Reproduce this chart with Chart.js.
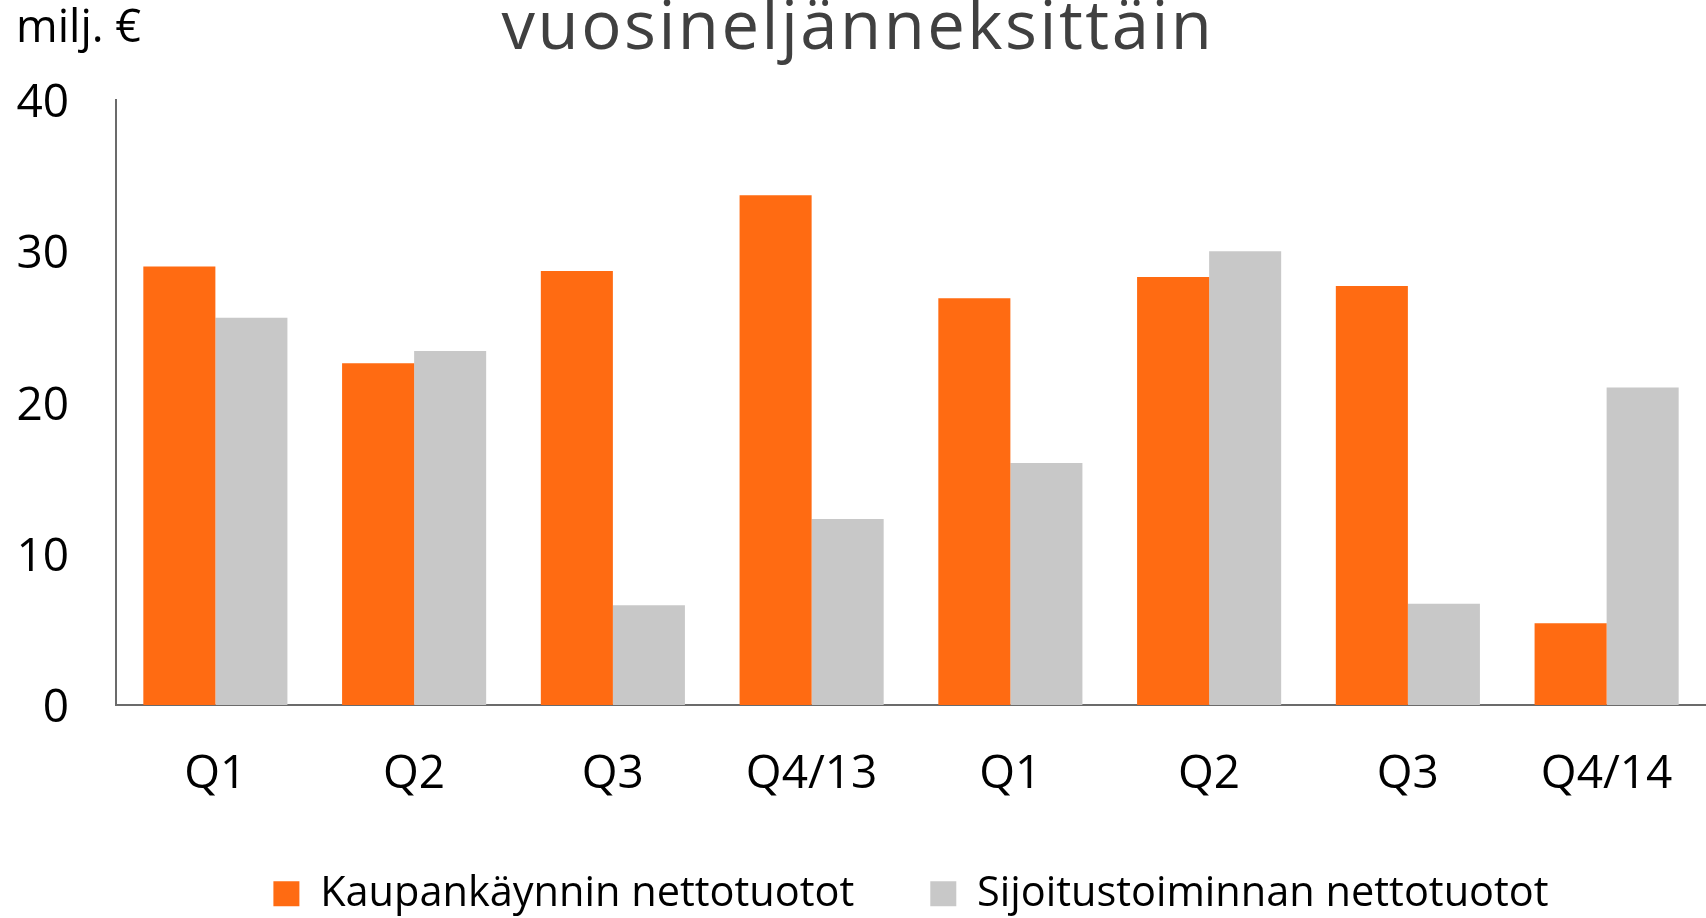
<!DOCTYPE html>
<html>
<head>
<meta charset="utf-8">
<script src="https://cdn.jsdelivr.net/npm/chart.js@4.4.1/dist/chart.umd.min.js"></script>
<style>
  html, body { margin: 0; padding: 0; background: #fff; }
  #wrap { width: 1706px; height: 918px; }
</style>
</head>
<body>
<div id="wrap"><canvas id="barChart" width="1706" height="918"></canvas></div>
<script>
const quarters = ['Q1', 'Q2', 'Q3', 'Q4/13', 'Q1', 'Q2', 'Q3', 'Q4/14'];
const tradingIncome = [29.0, 22.6, 28.7, 33.7, 26.9, 28.3, 27.7, 5.4];
const investmentIncome = [25.6, 23.4, 6.6, 12.3, 16.0, 30.0, 6.7, 21.0];
const yTicks = [0, 10, 20, 30, 40];
const seriesNames = ['Kaupankäynnin nettotuotot', 'Sijoitustoiminnan nettotuotot'];
const chartTitle = 'vuosineljänneksittäin';
const unitLabel = 'milj. €';

const orange = '#ff6b12';
const grey = '#c8c8c8';
const axisColor = '#6b6b6b';
const family = '"Open Sans", sans-serif';

// title + unit text sit above the plot, partly cut off at the top like the original
const headerText = {
  id: 'headerText',
  afterDraw(chart) {
    const ctx = chart.ctx;
    ctx.save();
    ctx.textBaseline = 'alphabetic';
    ctx.fillStyle = '#404040';
    ctx.font = '67px ' + family;
    ctx.textAlign = 'center';
    ctx.letterSpacing = '2.5px';
    ctx.fillText(chartTitle, 858, 49);
    ctx.letterSpacing = '0px';
    ctx.fillStyle = '#000';
    ctx.textAlign = 'left';
    ctx.font = '45px ' + family;
    ctx.fillText(unitLabel, 16, 42);
    ctx.restore();
  }
};

const ctx = document.getElementById('barChart').getContext('2d');

new Chart(ctx, {
  type: 'bar',
  data: {
    labels: quarters,
    datasets: [
      { label: seriesNames[0], data: tradingIncome, backgroundColor: orange },
      { label: seriesNames[1], data: investmentIncome, backgroundColor: grey }
    ]
  },
  options: {
    responsive: false,
    animation: false,
    layout: { padding: { top: 100, right: 0, left: 0, bottom: 0 } },
    datasets: { bar: { categoryPercentage: 0.725, barPercentage: 1.0 } },
    scales: {
      x: {
        grid: { display: false, drawTicks: false },
        border: { display: true, color: axisColor, width: 2 },
        ticks: {
          color: '#000',
          font: { family: family, size: 46 },
          padding: 42,
          maxRotation: 0,
          autoSkip: false
        },
        afterFit: (scale) => {
          scale.height = 92;
          scale.paddingLeft = 0;
          scale.paddingRight = 0;
        }
      },
      y: {
        min: 0,
        max: 40,
        grid: { display: false, drawTicks: false },
        border: { display: true, color: axisColor, width: 2 },
        ticks: {
          color: '#000',
          font: { family: family, size: 46 },
          padding: 47,
          labelOffset: 4
        },
        afterBuildTicks: (scale) => { scale.ticks = yTicks.map(v => ({ value: v })); },
        afterFit: (scale) => { scale.width = 116; }
      }
    },
    plugins: {
      legend: {
        position: 'bottom',
        fullSize: false,
        maxHeight: 121,
        labels: {
          boxWidth: 26,
          boxHeight: 25,
          color: '#000',
          font: { family: family, size: 41.5 },
          padding: 76
        }
      },
      title: { display: false },
      tooltip: { enabled: false }
    }
  },
  plugins: [headerText]
});
</script>
</body>
</html>
